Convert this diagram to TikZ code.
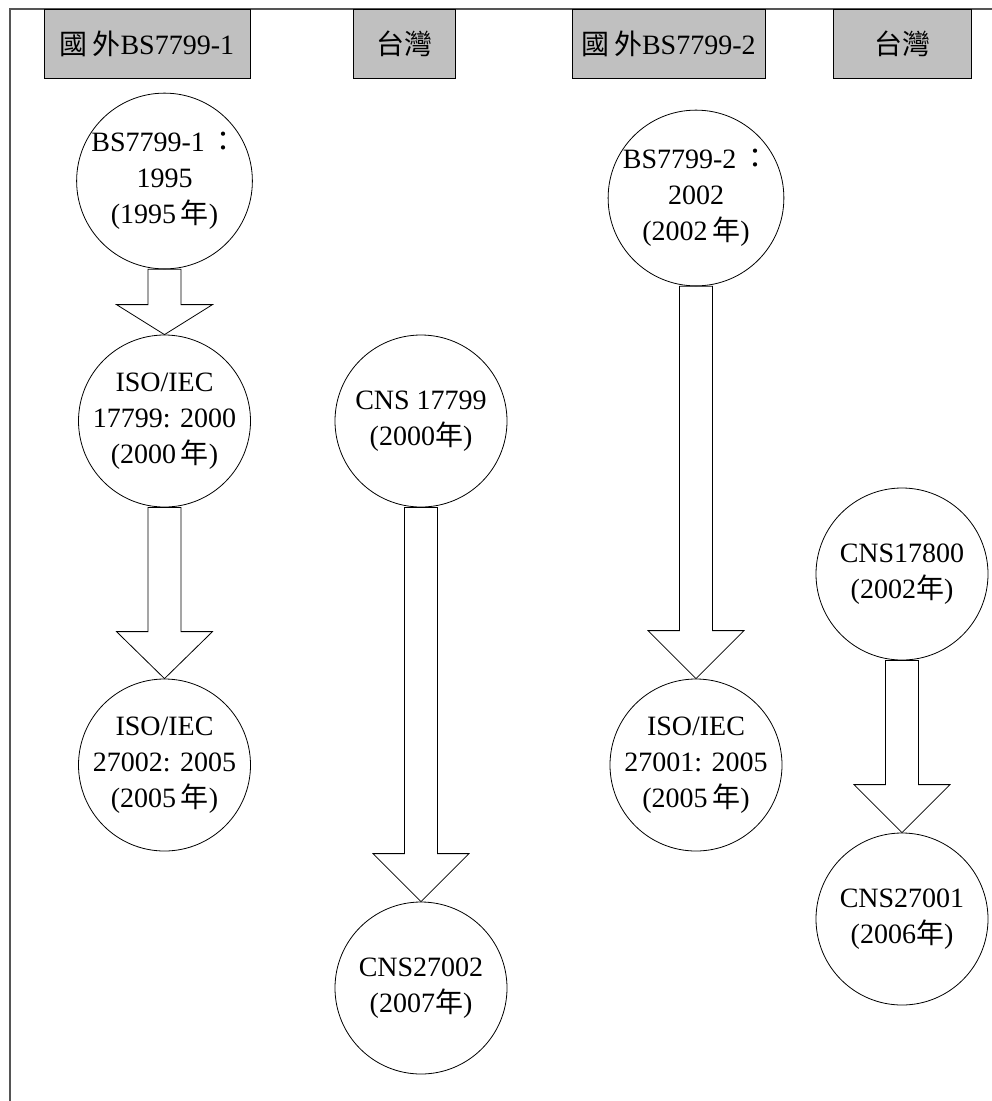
\documentclass[tikz,border=0pt]{standalone}
\usepackage{fontspec}
\setmainfont{Liberation Serif}
\newfontfamily\cjk{Noto Sans CJK TC}
\usetikzlibrary{calc}
\definecolor{hdrgray}{HTML}{C0C0C0}
\definecolor{framegray}{HTML}{555555}
\newcommand{\myblockarrow}[3]{%
 \draw[blk] let \p1=(#1.south), \p2=(#2.north) in
   ({\x1-16.5pt},\y1) -- ({\x1-16.5pt},{\y2+#3pt}) -- ({\x1-48pt},{\y2+#3pt}) -- (\p2)
   -- ({\x1+48pt},{\y2+#3pt}) -- ({\x1+16.5pt},{\y2+#3pt}) -- ({\x1+16.5pt},\y1) -- cycle;}
\begin{document}
\begin{tikzpicture}[x=1pt,y=-1pt,
  hdr/.style={draw=black, line width=0.8pt, fill=hdrgray, minimum width=#1, minimum height=69pt, inner sep=0pt, font=\fontsize{28}{34}\selectfont},
  std/.style={circle, draw=black, line width=0.8pt, minimum size=172pt, inner sep=0pt, align=center, font=\fontsize{28}{36}\selectfont},
  blk/.style={draw=black, line width=0.8pt, fill=white},
  frame/.style={draw=framegray, line width=1.2pt}]
\useasboundingbox (0,0) rectangle (992,1101);
\fill[white] (0,0) rectangle (992,1101);
\draw[frame] (10,1101) -- (10,9) -- (992,9);
% headers
\node[hdr=206pt] (h1) at (147,43.5) {{\cjk 國\,外}BS7799-1};
\node[hdr=102pt] (h2) at (404,43.5) {{\cjk 台灣}};
\node[hdr=193pt] (h3) at (668.5,43.5) {{\cjk 國\,外}BS7799-2};
\node[hdr=138pt] (h4) at (902,43.5) {{\cjk 台灣}};
% circles
\node[std] (c1) at (164.5,181) {BS7799-1\,{\cjk ：}\\1995\\(1995\,{\cjk 年})};
\node[std] (c2) at (164.5,421) {ISO/IEC\\17799: 2000\\(2000\,{\cjk 年})};
\node[std] (c3) at (164.5,765) {ISO/IEC\\27002: 2005\\(2005\,{\cjk 年})};
\node[std] (d1) at (421,421) {CNS 17799\\(2000{\cjk 年})};
\node[std] (d2) at (421,988) {CNS27002\\(2007{\cjk 年})};
\node[std] (e1) at (696,198) {BS7799-2\,{\cjk ：}\\2002\\(2002\,{\cjk 年})};
\node[std] (e2) at (696,765) {ISO/IEC\\27001: 2005\\(2005\,{\cjk 年})};
\node[std] (f1) at (902,574) {CNS17800\\(2002{\cjk 年})};
\node[std] (f2) at (902,919) {CNS27001\\(2006{\cjk 年})};
% block arrows
\myblockarrow{c1}{c2}{30}
\myblockarrow{c2}{c3}{47}
\myblockarrow{d1}{d2}{48}
\myblockarrow{e1}{e2}{48}
\myblockarrow{f1}{f2}{48}
\end{tikzpicture}
\end{document}
